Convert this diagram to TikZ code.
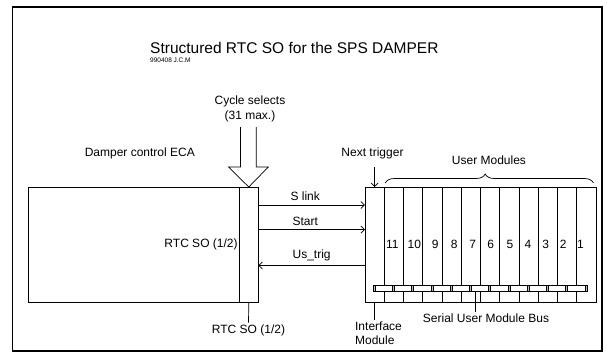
\documentclass[tikz,border=0pt]{standalone}
\usepackage{fontspec}
\setmainfont{Liberation Sans}
\usetikzlibrary{positioning,arrows.meta,calc,decorations.pathreplacing}
\tikzset{
  blk/.style={draw, line width=0.8pt, inner sep=0pt, outer sep=0pt, minimum height=115pt},
  slot/.style={blk, minimum width=19.25pt},
  lab/.style={font=\fontsize{12}{14.3}\selectfont, inner sep=1.5pt},
  sig/.style={-{Straight Barb[length=3.5pt, width=7pt]}, line width=0.7pt},
  lead/.style={line width=0.7pt},
  busbar/.style={draw, fill=white, line width=0.6pt},
  buscon/.style={draw, fill=black!25, line width=0.4pt}
}

\begin{document}
\begin{tikzpicture}[x=1pt, y=-1pt]
\useasboundingbox (0,0) rectangle (607,356);
\draw[line width=1.6pt] (12.5,7) rectangle (602,351);
\node[anchor=base west, inner sep=0pt, font=\fontsize{15.5}{18}\selectfont] (title) at (150,53) {Structured RTC SO for the SPS DAMPER};
\node[anchor=base west, inner sep=0pt, font=\fontsize{6.5}{7}\selectfont] (stamp) at (150,62) {990408 J.C.M};

% damper control side
\node[blk, minimum width=230pt] (eca) at (143.3,244.5) {};
\node[blk, minimum width=19pt] (rtc) at (248.8,244.5) {};
\node[lab, left=0pt of rtc.west] (rtcin) {RTC SO (1/2)};
\node[lab] (ecalab) at (139.8,153) {Damper control ECA};
\node[lab, align=center] (cyc) at (250,109) {Cycle selects\\(31 max.)};
\node[lab] (rtcb) at (248.5,330) {RTC SO (1/2)};
\draw[lead] (rtc.south) -- (rtcb.north);
% open arrow for the cycle selects
\draw[lead] ($(rtc.north)+(-8.3,-60)$) -- ++(0,40) -- ++(-12,0) -- (rtc.north)
  -- ++(19.5,-20) -- ++(-12,0) -- ++(0,-40);

% crate with interface and user modules
\node[slot] (ifm) at (374.6,244.5) {};
\foreach \n [count=\k] in {11,10,9,8,7,6,5,4,3,2,1}
  \node[slot] (m\n) at (374.6+\k*19.25,244.5) {};
\foreach \n/\dx in {11/-1.5,10/1.3,9/2.8,8/2.7,7/1.8,6/0.6,5/0.5,4/-0.7,3/-2.2,2/-4,1/-5.8}
  \node[lab, xshift=\dx pt] (num\n) at (m\n) {\n};

% serial bus
\coordinate (bl) at (ifm.center |- 0,285.5);
\coordinate (br) at (m1.center |- 0,291);
\draw[busbar] (bl) rectangle (br);
\foreach \s in {ifm,m11,m10,m9,m8,m7,m6,m5,m4,m3,m2,m1}
  \draw[buscon] ($(\s.center |- bl)+(-1.5,0)$) rectangle ($(\s.center |- br)+(0.5,0)$);
\coordinate (busp) at ($(m7.center |- br)+(4,0)$);
\node[lab] (buslab) at (486,318.5) {Serial User Module Bus};
\draw[lead] (busp) -- (busp |- buslab.north);

\node[lab, align=left] (ifmlab) at (378.5,333) {Interface\\Module};
\draw[lead] (ifm.south) -- (ifm.south |- ifmlab.north);

\node[lab] (nxt) at (372.5,153.3) {Next trigger};
\draw[sig, shorten <=6pt] (nxt.south -| ifm.north) -- (ifm.north);

\coordinate (bra) at ($(m11.north west)+(1,-4)$);
\coordinate (brb) at ($(m1.north east)+(-2.5,-4)$);
\draw[lead, decorate, decoration={brace, amplitude=9pt, aspect=0.48}] (bra) -- (brb);
\node[lab] (umlab) at (489,160) {User Modules};

% signals
\draw[sig] ([yshift=-18pt]rtc.north east) -- ([yshift=-18pt]ifm.north west) node[lab, pos=0.44, above=2.5pt] {S link};
\draw[sig] ([yshift=-42.7pt]rtc.north east) -- ([yshift=-42.7pt]ifm.north west) node[lab, pos=0.44, above=2.5pt] {Start};
\draw[sig] ([yshift=-78.5pt]ifm.north west) -- ([yshift=-78.5pt]rtc.north east) node[lab, midway, above=2.5pt] {Us\_trig};
\end{tikzpicture}
\end{document}
